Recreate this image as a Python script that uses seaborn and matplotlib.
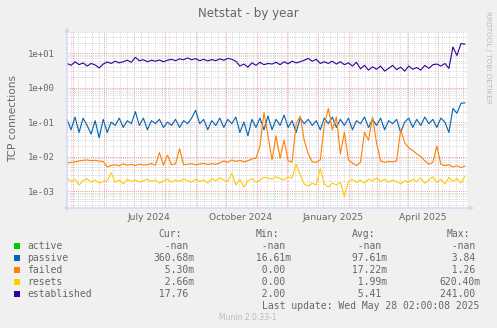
import numpy as np
import pandas as pd
import matplotlib
matplotlib.use("Agg")
import matplotlib.pyplot as plt
import matplotlib.dates as mdates
from matplotlib.patches import Rectangle
from matplotlib.ticker import LogLocator, FuncFormatter, NullFormatter
import seaborn as sns

# ---------------- data ----------------
start_date = "2024-04-25"
end_date = "2025-05-28"

established = [
    5.0, 4.4, 5.6, 4.6, 5.2, 4.2, 5.0, 4.5, 3.7, 4.8,
    5.5, 5.0, 5.8, 5.2, 5.6, 6.2, 5.4, 7.5, 6.0, 6.4,
    5.6, 6.2, 5.8, 6.3, 5.6, 6.2, 6.6, 6.0, 6.8, 6.4,
    7.2, 6.4, 6.9, 6.0, 6.6, 5.9, 6.5, 6.0, 6.8, 6.2,
    7.0, 6.6, 5.8, 4.2, 4.8, 3.9, 5.2, 4.4, 5.4, 4.6,
    5.0, 4.8, 5.4, 4.6, 5.6, 4.9, 5.8, 5.2, 5.6, 6.2,
    7.0, 5.8, 6.6, 5.0, 5.6, 5.0, 5.8, 4.8, 5.6, 4.6,
    5.2, 4.2, 5.4, 3.5, 4.4, 3.2, 4.0, 3.4, 4.2, 3.0,
    3.6, 4.4, 3.3, 3.9, 3.0, 4.2, 3.4, 3.8, 3.2, 4.4,
    3.6, 4.6, 4.8, 4.2, 5.0, 3.6, 15.0, 8.5, 19.0, 18.0,
]

passive = [
    0.12, 0.06, 0.14, 0.05, 0.13, 0.08, 0.045, 0.11, 0.035, 0.12,
    0.05, 0.10, 0.08, 0.13, 0.07, 0.11, 0.09, 0.20, 0.08, 0.13,
    0.06, 0.11, 0.09, 0.12, 0.07, 0.10, 0.08, 0.12, 0.07, 0.11,
    0.09, 0.13, 0.22, 0.09, 0.12, 0.06, 0.11, 0.08, 0.13, 0.07,
    0.12, 0.09, 0.14, 0.05, 0.10, 0.04, 0.12, 0.07, 0.13, 0.06,
    0.15, 0.06, 0.12, 0.08, 0.16, 0.07, 0.11, 0.05, 0.13, 0.09,
    0.12, 0.08, 0.11, 0.06, 0.13, 0.09, 0.14, 0.07, 0.12, 0.08,
    0.13, 0.06, 0.11, 0.09, 0.14, 0.07, 0.12, 0.08, 0.13, 0.06,
    0.11, 0.09, 0.12, 0.05, 0.10, 0.13, 0.07, 0.12, 0.08, 0.14,
    0.09, 0.12, 0.07, 0.13, 0.10, 0.05, 0.25, 0.18, 0.35, 0.36,
]

failed = [
    0.0065, 0.0068, 0.0070, 0.0075, 0.0078, 0.0080, 0.0076, 0.0078, 0.0074, 0.0072,
    0.0050, 0.0055, 0.0058, 0.0054, 0.0062, 0.0056, 0.0059, 0.0055, 0.0060, 0.0057,
    0.0058, 0.0063, 0.0056, 0.0130, 0.0057, 0.0110, 0.0058, 0.0062, 0.0170, 0.0058,
    0.0060, 0.0062, 0.0058, 0.0061, 0.0063, 0.0059, 0.0062, 0.0060, 0.0065, 0.0075,
    0.0068, 0.0080, 0.0072, 0.0078, 0.0070, 0.0076, 0.0085, 0.0090, 0.0200, 0.1900,
    0.0400, 0.0080, 0.0400, 0.0090, 0.0300, 0.0075, 0.0070, 0.0900, 0.1500, 0.0300,
    0.0120, 0.0070, 0.0068, 0.0080, 0.0800, 0.2500, 0.0600, 0.1400, 0.0120, 0.0500,
    0.0080, 0.0065, 0.0055, 0.0068, 0.0500, 0.0300, 0.1400, 0.0250, 0.0075, 0.0068,
    0.0072, 0.0070, 0.0075, 0.0600, 0.0250, 0.0180, 0.0150, 0.0120, 0.0100, 0.0075,
    0.0060, 0.0068, 0.0200, 0.0060, 0.0055, 0.0058, 0.0050, 0.0054, 0.0048, 0.0053,
]

resets = [
    0.0024, 0.0019, 0.0022, 0.0015, 0.0020, 0.0023, 0.0018, 0.0021, 0.0017, 0.0019,
    0.0020, 0.0034, 0.0018, 0.0021, 0.0016, 0.0022, 0.0019, 0.0021, 0.0018, 0.0020,
    0.0022, 0.0019, 0.0021, 0.0017, 0.0020, 0.0022, 0.0018, 0.0021, 0.0019, 0.0023,
    0.0020, 0.0018, 0.0022, 0.0019, 0.0021, 0.0017, 0.0023, 0.0020, 0.0024, 0.0021,
    0.0019, 0.0033, 0.0015, 0.0022, 0.0013, 0.0020, 0.0023, 0.0018, 0.0021, 0.0025,
    0.0024, 0.0022, 0.0026, 0.0023, 0.0021, 0.0026, 0.0024, 0.0060, 0.0030, 0.0016,
    0.0014, 0.0017, 0.0015, 0.0045, 0.0016, 0.0013, 0.0017, 0.0015, 0.0018, 0.0007,
    0.0019, 0.0022, 0.0018, 0.0021, 0.0017, 0.0022, 0.0020, 0.0024, 0.0019, 0.0022,
    0.0018, 0.0021, 0.0019, 0.0016, 0.0020, 0.0018, 0.0022, 0.0019, 0.0024, 0.0017,
    0.0021, 0.0026, 0.0018, 0.0022, 0.0016, 0.0025, 0.0019, 0.0023, 0.0017, 0.0027,
]

legend_names = ["active", "passive", "failed", "resets", "established"]
legend_colors = ["#00CC00", "#0066B3", "#FF8000", "#FFCC00", "#330099"]
cur_vals = ["-nan", "360.68m", "5.30m", "2.66m", "17.76"]
min_vals = ["-nan", "16.61m", "0.00", "0.00", "2.00"]
avg_vals = ["-nan", "97.61m", "17.22m", "1.99m", "5.41"]
max_vals = ["-nan", "3.84", "1.26", "620.40m", "241.00"]

tick_label_dates = ["2024-07-16", "2024-10-16", "2025-01-16", "2025-04-16"]
tick_labels = ["July 2024", "October 2024", "January 2025", "April 2025"]

title = "Netstat - by year"
ylabel = "TCP connections"
last_update = "Last update: Wed May 28 02:00:08 2025"
# --------------------------------------

W, H = 497, 328
FONT = "#666666"
MONO = "DejaVu Sans Mono"

sns.set_theme(style="white")
plt.rcParams["font.family"] = ["DejaVu Sans"]

fig = plt.figure(figsize=(W / 100, H / 100), dpi=100, facecolor="#F0F0F0")
ax = fig.add_axes([67 / W, 1 - 208 / H, 400 / W, 176 / H])
ax.set_facecolor("white")

dates = pd.date_range(start_date, end_date, periods=len(established))
series = {"passive": passive, "failed": failed, "resets": resets, "established": established}
df = pd.concat(
    [pd.DataFrame({"date": dates, "value": v, "series": k}) for k, v in series.items()],
    ignore_index=True,
)
palette = dict(zip(legend_names, legend_colors))
sns.lineplot(data=df, x="date", y="value", hue="series",
             hue_order=["passive", "failed", "resets", "established"],
             palette=palette, linewidth=0.8, legend=False, ax=ax)

ax.set_yscale("log")
ax.set_ylim(10 ** -3.49, 10 ** 1.61)
ax.set_xlim(pd.Timestamp("2024-04-25"), pd.Timestamp("2025-05-30"))
ax.set_xlabel("")
ax.set_ylabel("")

# y axis ticks / grid
ax.yaxis.set_major_locator(LogLocator(base=10, numticks=12))
ax.yaxis.set_minor_locator(LogLocator(base=10, subs=np.arange(2, 10), numticks=12))
ax.yaxis.set_major_formatter(FuncFormatter(lambda v, p: f"{v:.0e}"))
ax.yaxis.set_minor_formatter(NullFormatter())

# x grid: months (major), weeks (minor)
ax.xaxis.set_major_locator(mdates.MonthLocator())
ax.xaxis.set_minor_locator(mdates.WeekdayLocator(byweekday=mdates.MO))
ax.xaxis.set_major_formatter(NullFormatter())
ax.xaxis.set_minor_formatter(NullFormatter())

dot = (0, (1, 1.2))
ax.grid(which="minor", axis="both", color="#D4D4D4", linestyle=dot, linewidth=0.7)
ax.grid(which="major", axis="both", color="#EE9A9A", linestyle=dot, linewidth=0.7)
ax.set_axisbelow(True)

ax.tick_params(axis="y", which="both", length=0, pad=8.5, labelsize=6.5,
               labelcolor=FONT)
for t in ax.get_yticklabels():
    t.set_family(MONO)
ax.tick_params(axis="x", which="major", length=2.5, color="#EE9A9A", direction="out")
ax.tick_params(axis="x", which="minor", length=1.5, color="#D4D4D4", direction="out")

sec = ax.secondary_xaxis("bottom")
sec.set_xticks(mdates.date2num(pd.to_datetime(tick_label_dates)), labels=tick_labels)
sec.tick_params(length=0, pad=3.5, labelsize=6.6, labelcolor=FONT)
sec.spines["bottom"].set_visible(False)

for s in ax.spines.values():
    s.set_visible(False)

axis_col = "#CFD6F8"
ax.annotate("", xy=(0, 1.028), xytext=(0, -0.015), xycoords="axes fraction",
            arrowprops=dict(arrowstyle="-|>", color=axis_col, lw=1.0,
                            mutation_scale=6, shrinkA=0, shrinkB=0))
ax.annotate("", xy=(1.018, 0), xytext=(-0.008, 0), xycoords="axes fraction",
            arrowprops=dict(arrowstyle="-|>", color=axis_col, lw=1.0,
                            mutation_scale=6, shrinkA=0, shrinkB=0))

# texts
def fx(px):
    return px / W

def fy(py):
    return 1 - py / H

fig.text(fx(248), fy(13), title, ha="center", va="center", fontsize=8.6, color=FONT)
fig.text(fx(13), fy(119), ylabel, rotation=90, ha="center", va="center",
         fontsize=7.6, color=FONT)
fig.text(fx(488), fy(57), "RRDTOOL / TOBI OETIKER", rotation=270, ha="center",
         va="center", fontsize=5.2, color="#BBBBBB")

# legend
hdr_y = 234
for lab, x in zip(["Cur:", "Min:", "Avg:", "Max:"], [158, 256, 352, 447]):
    fig.text(fx(x), fy(hdr_y), lab, ha="left", va="center", fontsize=7,
             family=MONO, color=FONT)


def fmt(s):
    return (s if s.endswith("m") else s + " ").rjust(7)


col_x = [153, 250, 346, 439.5]
for i, name in enumerate(legend_names):
    yc = 246 + 12 * i
    fig.add_artist(Rectangle((fx(14), fy(yc + 3)), 6 / W, 6 / H,
                             transform=fig.transFigure, color=legend_colors[i], lw=0))
    fig.text(fx(27), fy(yc), name, ha="left", va="center", fontsize=7,
             family=MONO, color=FONT)
    for x, vals in zip(col_x, [cur_vals, min_vals, avg_vals, max_vals]):
        fig.text(fx(x), fy(yc), fmt(vals[i]), ha="left", va="center", fontsize=7,
                 family=MONO, color=FONT)

fig.text(fx(262), fy(306), last_update, ha="left", va="center", fontsize=7,
         family=MONO, color=FONT)
fig.text(fx(248), fy(317), "Munin 2.0.33-1", ha="center", va="center",
         fontsize=5.5, color="#BBBBBB")

fig.savefig("out.png", dpi=100, facecolor=fig.get_facecolor())
